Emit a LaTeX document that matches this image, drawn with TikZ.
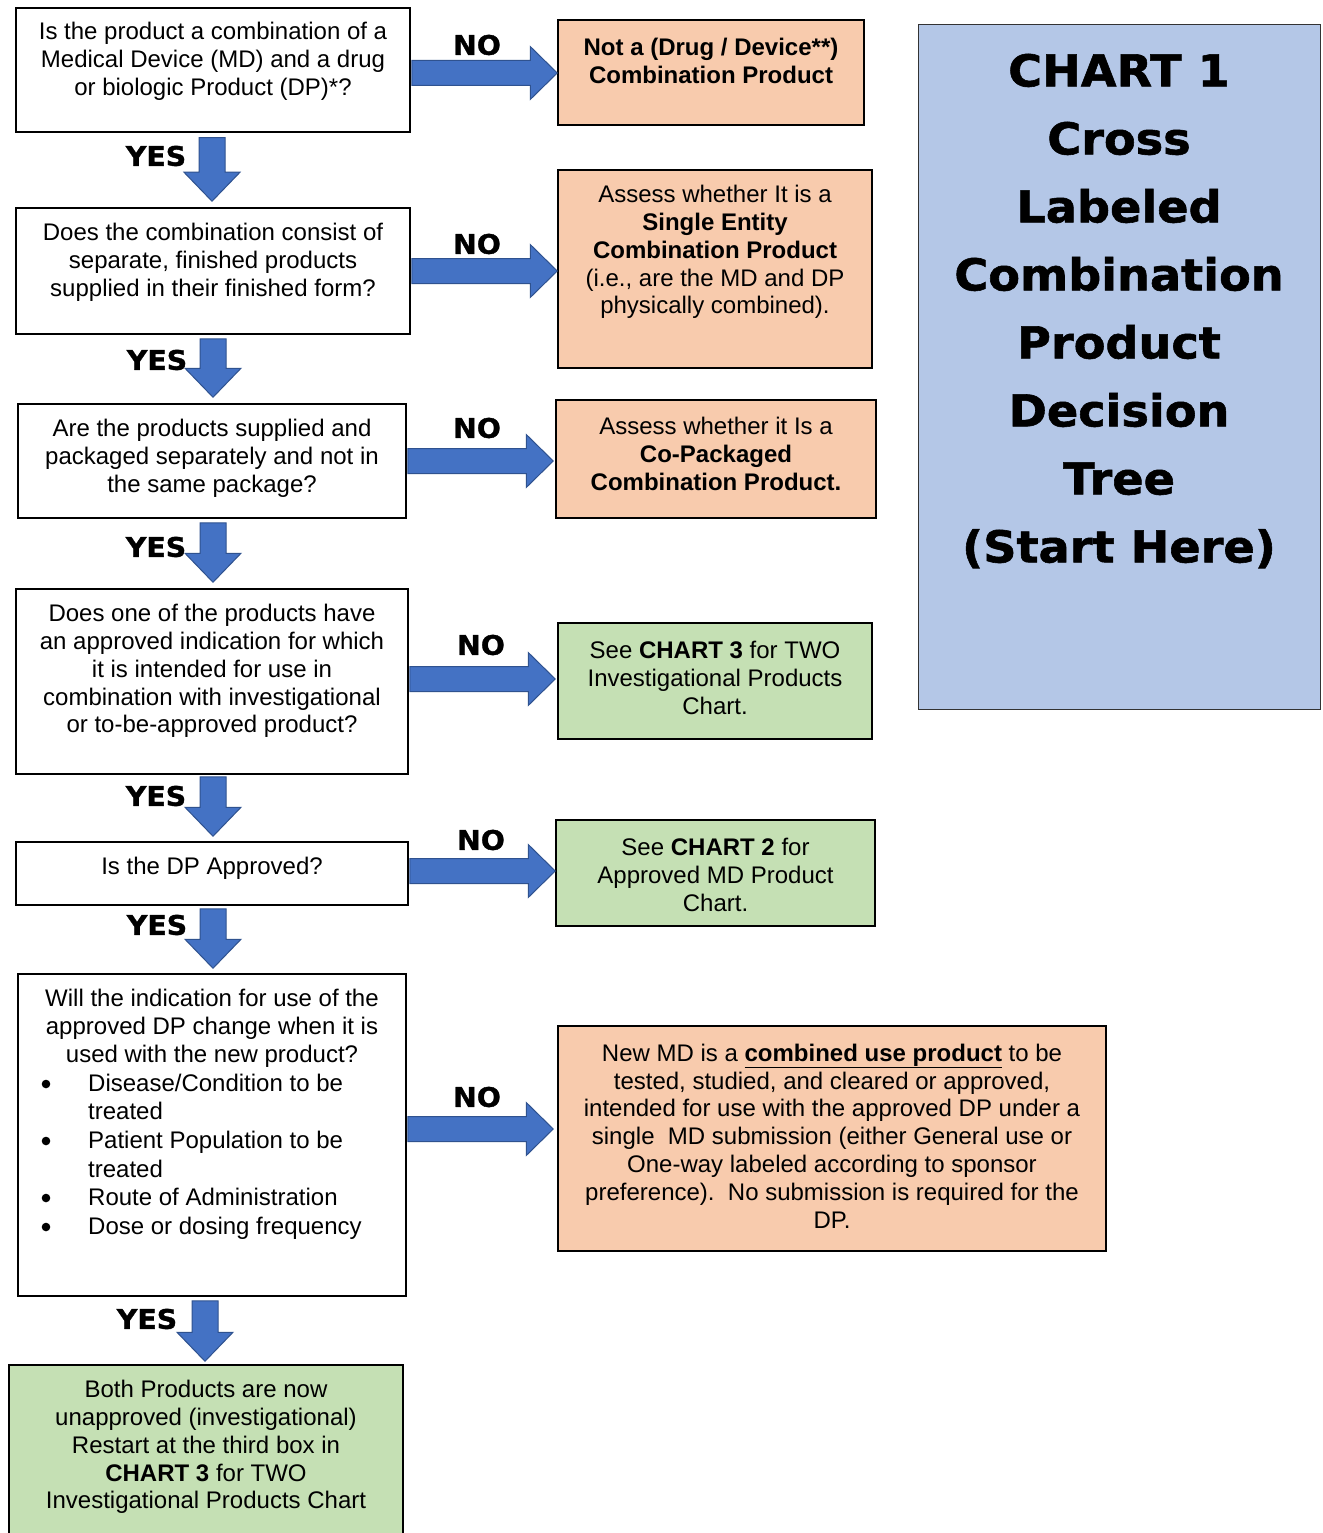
\documentclass[tikz,border=0pt]{standalone}
\usepackage{fontspec}
\setmainfont{Liberation Sans}
\newfontfamily\blackfont[FakeStretch=1.05, FakeBold=1.3]{DejaVu Sans}
\usetikzlibrary{calc}

\definecolor{peach}{HTML}{F8CBAD}
\definecolor{mint}{HTML}{C5E0B4}
\definecolor{sky}{HTML}{B4C7E7}
\definecolor{arrowfill}{HTML}{4472C4}
\definecolor{arrowline}{HTML}{2F528F}

\tikzset{
  box/.style={draw=black, line width=1.5pt, inner sep=0pt},
  txt/.style={align=center, inner sep=0pt, font=\fontsize{24}{27.8}\selectfont},
  lbl/.style={inner sep=0pt, font=\blackfont\bfseries\fontsize{27}{30}\selectfont},
  blockarrow/.style={fill=arrowfill, draw=arrowline, line width=1pt},
  bulletdot/.style={fill=black},
}

\newcommand\rarrow[2]{%
  \draw[blockarrow] ($(#1)+(0,-12.5)$) -- ($(#2)+(-27,-12.5)$) -- ($(#2)+(-27,-26.5)$) -- (#2)
    -- ($(#2)+(-27,26.5)$) -- ($(#2)+(-27,12.5)$) -- ($(#1)+(0,12.5)$) -- cycle;}
\newcommand\darrow[2]{%
  \draw[blockarrow] ($(#1)+(-13,0)$) -- ($(#2)+(-13,-29)$) -- ($(#2)+(-28,-29)$) -- (#2)
    -- ($(#2)+(28,-29)$) -- ($(#2)+(13,-29)$) -- ($(#1)+(13,0)$) -- cycle;}

\begin{document}
\begin{tikzpicture}[x=1pt, y=-1pt]
\useasboundingbox (0,0) rectangle (1322,1533);
\clip (0,0) rectangle (1322,1533);
\fill[white] (0,0) rectangle (1322,1533);

% left column boxes
\node[box, fill=white, minimum width=394pt, minimum height=124pt] (b1) at (213,70) {};
\node[box, fill=white, minimum width=394pt, minimum height=126pt] (b2) at (213,271) {};
\node[box, fill=white, minimum width=388pt, minimum height=114pt] (b3) at (212,461) {};
\node[box, fill=white, minimum width=392pt, minimum height=185pt] (b4) at (212,681.5) {};
\node[box, fill=white, minimum width=392pt, minimum height=63pt] (b5) at (212,873.5) {};
\node[box, fill=white, minimum width=388pt, minimum height=322pt] (b6) at (212,1135) {};
\node[box, fill=mint, minimum width=394pt, minimum height=195pt] (b7) at (206,1462.5) {};

% right column boxes
\node[box, fill=peach, minimum width=306pt, minimum height=105pt] (r1) at (711,72.5) {};
\node[box, fill=peach, minimum width=314pt, minimum height=198pt] (r2) at (715,269) {};
\node[box, fill=peach, minimum width=320pt, minimum height=118pt] (r3) at (716,459) {};
\node[box, fill=mint, minimum width=314pt, minimum height=116pt] (r4) at (715,681) {};
\node[box, fill=mint, minimum width=319pt, minimum height=106pt] (r5) at (715.5,873) {};
\node[box, fill=peach, minimum width=548pt, minimum height=225pt] (r6) at (832,1138.5) {};

% title box
\node[draw=black!80, line width=1pt, fill=sky, minimum width=402pt, minimum height=684pt] (tbox) at (1119,367) {};
\node[align=center, inner sep=0pt, font=\blackfont\bfseries\fontsize{44}{68}\selectfont] (ttl) at (1119,311)
  {CHART 1\\Cross\\Labeled\\Combination\\Product\\Decision\\Tree\\(Start Here)};

% texts left
\node[txt] (t1) at (213,61) {Is the product a combination of a\\Medical Device (MD) and a drug\\or biologic Product (DP)*?};
\node[txt] (t2) at (213,262) {Does the combination consist of\\separate, finished products\\supplied in their finished form?};
\node[txt] (t3) at (212,458) {Are the products supplied and\\packaged separately and not in\\the same package?};
\node[txt] (t4) at (212,671) {Does one of the products have\\an approved indication for which\\it is intended for use in\\combination with investigational\\or to-be-approved product?};
\node[txt] (t5) at (212,868) {Is the DP Approved?};
\node[txt] (t6) at (212,1028) {Will the indication for use of the\\approved DP change when it is\\used with the new product?};
\node[anchor=west, inner sep=0pt, font=\fontsize{24}{27.8}\selectfont, align=left] (t6b) at (88,1157)
  {\renewcommand\arraystretch{1.03}\begin{tabular}{@{}l@{}}
   Disease/Condition to be\\
   treated\\
   Patient Population to be\\
   treated\\
   Route of Administration\\
   Dose or dosing frequency
  \end{tabular}};
\fill[bulletdot] (46,1084) circle (4.3);
\fill[bulletdot] (46,1141) circle (4.3);
\fill[bulletdot] (46,1198) circle (4.3);
\fill[bulletdot] (46,1227) circle (4.3);
\node[txt] (t7) at (206,1447) {Both Products are now\\unapproved (investigational)\\Restart at the third box in\\\textbf{CHART 3} for TWO\\Investigational Products Chart};

% texts right
\node[txt, font=\bfseries\fontsize{24}{27.8}\selectfont] (s1) at (711,61) {Not a (Drug / Device**)\\Combination Product};
\node[txt] (s2) at (715,252) {Assess whether It is a\\\textbf{Single Entity}\\\textbf{Combination Product}\\(i.e., are the MD and DP\\physically combined).};
\node[txt] (s3) at (716,454) {Assess whether it Is a\\\textbf{Co-Packaged}\\\textbf{Combination Product.}};
\node[txt] (s4) at (715,678) {See \textbf{CHART 3} for TWO\\Investigational Products\\Chart.};
\node[txt] (s5) at (715.5,875) {See \textbf{CHART 2} for\\Approved MD Product\\Chart.};
\node[txt] (s6) at (832,1136) {New MD is a \underline{\textbf{combined use product}} to be\\tested, studied, and cleared or approved,\\intended for use with the approved DP under a\\single\ \ MD submission (either General use or\\One-way labeled according to sponsor\\preference).\ \ No submission is required for the\\DP.};

% NO arrows
\coordinate (a1s) at ($(b1.east)+(1,3)$);    \coordinate (a1e) at (a1s -| r1.west);
\coordinate (a2s) at ($(b2.east)+(1,0)$);    \coordinate (a2e) at (a2s -| r2.west);
\coordinate (a3s) at ($(b3.east)+(1,0)$);    \coordinate (a3e) at ($(a3s -| r3.west)+(-2,0)$);
\coordinate (a4s) at ($(b4.east)+(1,-2.5)$); \coordinate (a4e) at ($(a4s -| r4.west)+(-2,0)$);
\coordinate (a5s) at ($(b5.east)+(1,-2.5)$); \coordinate (a5e) at (a5s -| r5.west);
\coordinate (a6s) at ($(b6.east)+(1,-6)$);   \coordinate (a6e) at ($(a6s -| r6.west)+(-4,0)$);
\rarrow{a1s}{a1e}
\rarrow{a2s}{a2e}
\rarrow{a3s}{a3e}
\rarrow{a4s}{a4e}
\rarrow{a5s}{a5e}
\rarrow{a6s}{a6e}

% YES arrows
\coordinate (y1s) at ($(b1.south)+(-1,5)$);  \coordinate (y1e) at ($(y1s |- b2.north)+(0,-6)$);
\coordinate (y2s) at ($(b2.south)+(0,4)$);   \coordinate (y2e) at ($(y2s |- b3.north)+(0,-6)$);
\coordinate (y3s) at ($(b3.south)+(1,4)$);   \coordinate (y3e) at ($(y3s |- b4.north)+(0,-6)$);
\coordinate (y4s) at ($(b4.south)+(1,2)$);   \coordinate (y4e) at ($(y4s |- b5.north)+(0,-5)$);
\coordinate (y5s) at ($(b5.south)+(1,3)$);   \coordinate (y5e) at ($(y5s |- b6.north)+(0,-5)$);
\coordinate (y6s) at ($(b6.south -| b7.north)+(-1,4)$); \coordinate (y6e) at ($(y6s |- b7.north)+(0,-3)$);
\darrow{y1s}{y1e}
\darrow{y2s}{y2e}
\darrow{y3s}{y3e}
\darrow{y4s}{y4e}
\darrow{y5s}{y5e}
\darrow{y6s}{y6e}

% labels
\node[lbl] (no1) at (477,45) {NO};
\node[lbl] (no2) at (477,244) {NO};
\node[lbl] (no3) at (477,428) {NO};
\node[lbl] (no4) at (481,645) {NO};
\node[lbl] (no5) at (481,840) {NO};
\node[lbl] (no6) at (477,1097) {NO};
\node[lbl] (yes1) at (156,156) {YES};
\node[lbl] (yes2) at (157,360) {YES};
\node[lbl] (yes3) at (156,547) {YES};
\node[lbl] (yes4) at (156,796) {YES};
\node[lbl] (yes5) at (157,925) {YES};
\node[lbl] (yes6) at (147,1319) {YES};
\end{tikzpicture}
\end{document}
